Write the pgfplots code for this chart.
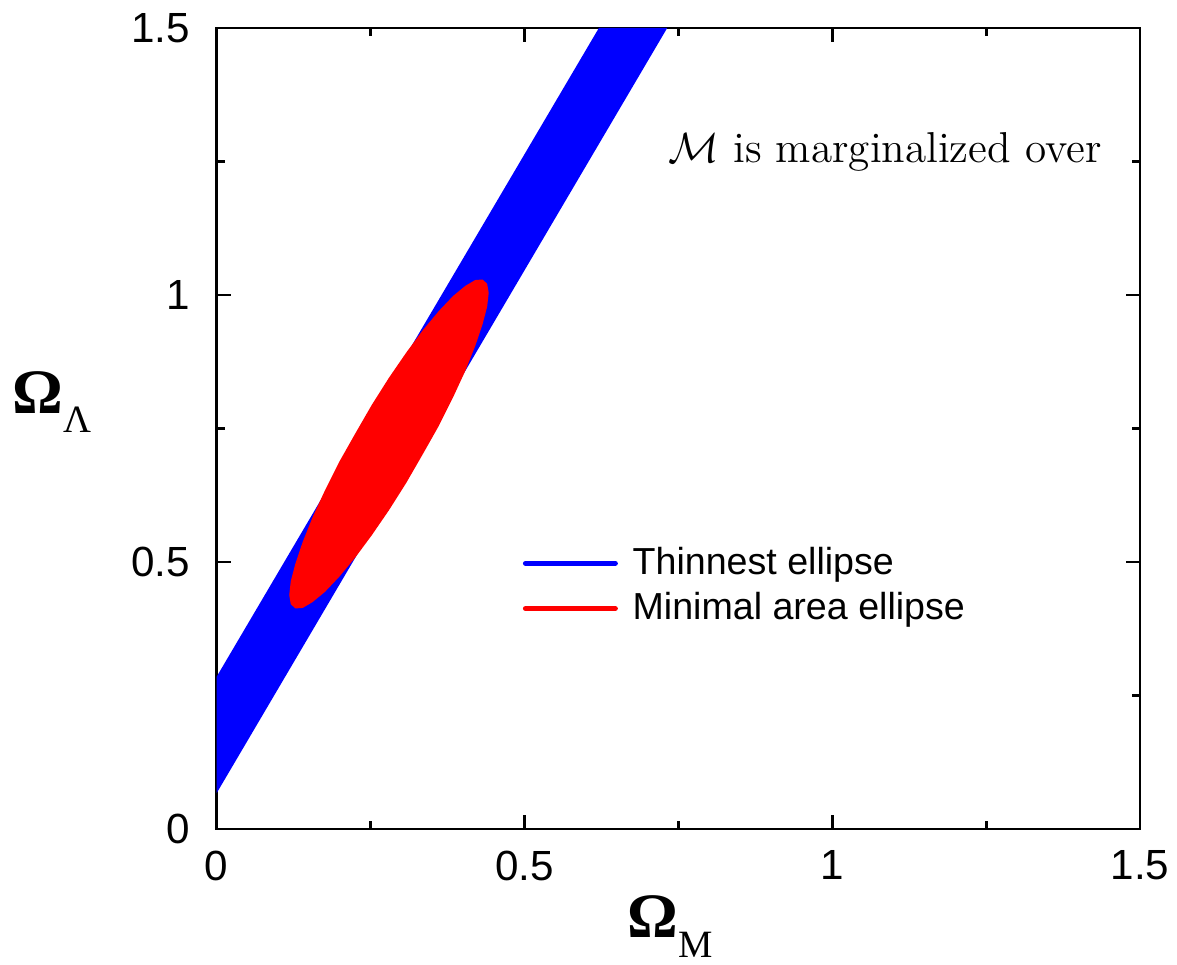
\documentclass[border=0pt]{standalone}
\usepackage{fontspec}
\usepackage{pgfplots}
\pgfplotsset{compat=1.18}
\newfontfamily\arial{Liberation Sans}
\newfontfamily\timesf{Liberation Serif}

\begin{document}
\begin{tikzpicture}
\begin{axis}[
  scale only axis, width=9.234cm, height=8.01cm,
  xmin=0, xmax=1.5, ymin=0, ymax=1.5,
  xtick={0,0.5,1,1.5}, ytick={0,0.5,1,1.5},
  minor tick num=1, tick align=inside,
  major tick length=0.14cm, minor tick length=0.08cm,
  axis line style={line width=0.8pt},
  every tick/.style={black, line width=0.8pt},
  tick label style={font=\arial\fontsize{12}{14}\selectfont},
  /pgf/number format/assume math mode=true,
  xticklabel style={inner sep=0pt, yshift=-6pt},
  yticklabel style={inner sep=0pt, xshift=-7.4pt},
  xlabel={{\timesf\bfseries\fontsize{18}{20}\selectfont Ω}{\timesf\fontsize{11}{12}\selectfont\raisebox{-5.7pt}{M}}},
  xlabel style={at={(axis description cs:0.4445,-0.136)}, anchor=base west, inner sep=0pt},
  ylabel={{\timesf\bfseries\fontsize{18}{20}\selectfont Ω}{\timesf\fontsize{11}{12}\selectfont\raisebox{-5.4pt}{Λ}}},
  ylabel style={at={(axis description cs:-0.2216,0.519)}, anchor=base west, inner sep=0pt, rotate=-90},
  legend style={draw=none, fill=none, at={(0.331,0.3034)}, anchor=west,
    font=\arial\fontsize{10.7}{12.8}\selectfont, inner sep=0pt,
    nodes={inner sep=0pt}, row sep=3.6pt, column sep=4.2pt},
  legend cell align=left,
  legend image code/.code={\draw[#1] (0cm,0cm) -- (0.9cm,0cm);},
  clip=false
]
% band of the thinnest ellipse
\addplot[fill=blue, draw=none, forget plot] coordinates {
  (0,0.285) (0.621,1.5) (0.732,1.5) (0,0.067)
} -- cycle;
% minimal area ellipse
\addplot[fill=red, draw=none, forget plot] coordinates {
  (0.442,1.004) (0.4395,1.021) (0.432,1.029) (0.420,1.028) (0.404,1.017)
  (0.384,0.998) (0.361,0.970) (0.335,0.934) (0.308,0.892) (0.280,0.845)
  (0.252,0.794) (0.225,0.740) (0.199,0.687) (0.176,0.634) (0.156,0.584)
  (0.140,0.538) (0.128,0.497) (0.1205,0.464) (0.118,0.438) (0.1205,0.421)
  (0.128,0.413) (0.140,0.414) (0.156,0.425) (0.176,0.444) (0.199,0.472)
  (0.225,0.508) (0.252,0.550) (0.280,0.597) (0.308,0.648) (0.335,0.702)
  (0.361,0.755) (0.384,0.808) (0.404,0.858) (0.420,0.904) (0.432,0.945)
  (0.4395,0.978)
} -- cycle;
\addlegendimage{blue, line width=1.4pt, line cap=round}
\addlegendentry{Thinnest ellipse}
\addlegendimage{red, line width=1.4pt, line cap=round}
\addlegendentry{Minimal area ellipse}
\node[anchor=base west, inner sep=0pt, font=\fontsize{12.3}{14}\selectfont]
  at (axis description cs:0.4888,0.8315) {$\mathcal{M}$ is marginalized over};
\end{axis}
\path ([xshift=-2.166cm,yshift=-1.36cm]current axis.south west) rectangle ([xshift=0.37cm,yshift=0.28cm]current axis.north east);
\end{tikzpicture}
\end{document}
